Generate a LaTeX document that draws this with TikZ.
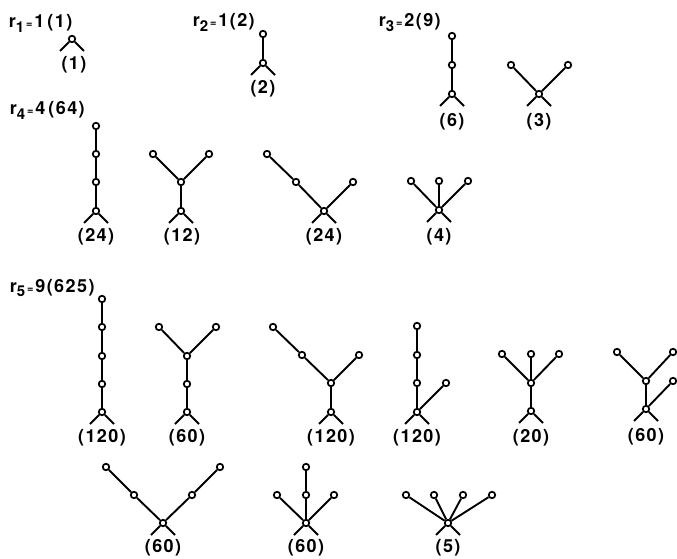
\documentclass[tikz,border=0pt]{standalone}
\usepackage{fontspec}
\setmainfont[LetterSpace=8]{TeX Gyre Heros}
\newcommand\rsub[1]{r\raisebox{-4.5pt}{\fontsize{15}{15}\selectfont#1}{\fontsize{11}{11}\selectfont\,=\,}}
\begin{document}
\begin{tikzpicture}[x=1pt,y=-1pt,line width=1.9pt,
    vx/.style={circle,draw,fill=white,line width=1.7pt,minimum size=6.5pt,inner sep=0pt},
    root/.style={vx,append after command={(\tikzlastnode) edge ++(-12,12) (\tikzlastnode) edge ++(12,12)}},
    cnt/.style={font=\bfseries\fontsize{18}{18}\selectfont,inner sep=0pt},
    hdr/.style={anchor=base west,font=\bfseries\fontsize{18}{18}\selectfont,inner sep=0pt}]
  \useasboundingbox (0,0) rectangle (677,559);

  \node[hdr] (h1) at (8,28) {\rsub{1}1\,(1)};
  \node[hdr] (h2) at (192,27) {\rsub{2}1(2)};
  \node[hdr] (h3) at (378,27) {\rsub{3}2(9)};
  \node[hdr] (h4) at (9,115) {\rsub{4}4\,(64)};
  \node[hdr] (h5) at (9,292) {\rsub{5}9(625)};

  \node[root] (A0) at (72,39) {};
  \node[cnt] at (74,65) {(1)};

  \node[root] (B0) at (263,63) {};
  \node[vx] (B1) at (263,34) {};
  \draw (B0) -- (B1);
  \node[cnt] at (263,89) {(2)};

  \node[root] (C0) at (452,94) {};
  \node[vx] (C1) at (452,65) {};
  \node[vx] (C2) at (452,36) {};
  \draw (C0) -- (C1) -- (C2);
  \node[cnt] at (452,122) {(6)};

  \node[root] (D0) at (539,94) {};
  \node[vx] (D1) at (511,65) {};
  \node[vx] (D2) at (568,65) {};
  \draw (D1) -- (D0) -- (D2);
  \node[cnt] at (539,122) {(3)};

  \node[root] (E0) at (96,211) {};
  \node[vx] (E1) at (96,182) {};
  \node[vx] (E2) at (96,154) {};
  \node[vx] (E3) at (96,126) {};
  \draw (E0) -- (E1) -- (E2) -- (E3);
  \node[cnt] at (96,237) {(24)};

  \node[root] (F0) at (181,211) {};
  \node[vx] (F1) at (181,182) {};
  \node[vx] (F2) at (153,154) {};
  \node[vx] (F3) at (209,154) {};
  \draw (F0) -- (F1) -- (F2) (F1) -- (F3);
  \node[cnt] at (182,237) {(12)};

  \node[root] (G0) at (324,211) {};
  \node[vx] (G1) at (296,182) {};
  \node[vx] (G2) at (267,154) {};
  \node[vx] (G3) at (353,182) {};
  \draw (G0) -- (G1) -- (G2) (G0) -- (G3);
  \node[cnt] at (324,237) {(24)};

  \node[root] (H0) at (439,210) {};
  \node[vx] (H1) at (411,181) {};
  \node[vx] (H2) at (439,181) {};
  \node[vx] (H3) at (468,181) {};
  \draw (H0) -- (H1) (H0) -- (H2) (H0) -- (H3);
  \node[cnt] at (439,237) {(4)};

  \node[root] (I0) at (102,412) {};
  \node[vx] (I1) at (102,384) {};
  \node[vx] (I2) at (102,356) {};
  \node[vx] (I3) at (102,327) {};
  \node[vx] (I4) at (102,299) {};
  \draw (I0) -- (I1) -- (I2) -- (I3) -- (I4);
  \node[cnt] at (102,438) {(120)};

  \node[root] (J0) at (187,412) {};
  \node[vx] (J1) at (187,384) {};
  \node[vx] (J2) at (187,356) {};
  \node[vx] (J3) at (159,327) {};
  \node[vx] (J4) at (216,327) {};
  \draw (J0) -- (J1) -- (J2) -- (J3) (J2) -- (J4);
  \node[cnt] at (187,438) {(60)};

  \node[root] (K0) at (331,412) {};
  \node[vx] (K1) at (331,383) {};
  \node[vx] (K2) at (302,355) {};
  \node[vx] (K3) at (273,327) {};
  \node[vx] (K4) at (359,355) {};
  \draw (K0) -- (K1) -- (K2) -- (K3) (K1) -- (K4);
  \node[cnt] at (331,438) {(120)};

  \node[root] (L0) at (417,412) {};
  \node[vx] (L1) at (417,383) {};
  \node[vx] (L2) at (417,355) {};
  \node[vx] (L3) at (417,326) {};
  \node[vx] (L4) at (446,383) {};
  \draw (L0) -- (L1) -- (L2) -- (L3) (L0) -- (L4);
  \node[cnt] at (417,438) {(120)};

  \node[root] (M0) at (531,411) {};
  \node[vx] (M1) at (531,383) {};
  \node[vx] (M2) at (502,354) {};
  \node[vx] (M3) at (531,354) {};
  \node[vx] (M4) at (559,354) {};
  \draw (M0) -- (M1) -- (M2) (M1) -- (M3) (M1) -- (M4);
  \node[cnt] at (531,438) {(20)};

  \node[root] (N0) at (646,409) {};
  \node[vx] (N1) at (646,381) {};
  \node[vx] (N2) at (617,352) {};
  \node[vx] (N3) at (673,352) {};
  \node[vx] (N4) at (673,381) {};
  \draw (N0) -- (N1) -- (N2) (N1) -- (N3) (N0) -- (N4);
  \node[cnt] at (646,437) {(60)};

  \node[root] (P0) at (163,523) {};
  \node[vx] (P1) at (134,495) {};
  \node[vx] (P2) at (106,467) {};
  \node[vx] (P3) at (192,495) {};
  \node[vx] (P4) at (220,467) {};
  \draw (P0) -- (P1) -- (P2) (P0) -- (P3) -- (P4);
  \node[cnt] at (163,548) {(60)};

  \node[root] (Q0) at (306,523) {};
  \node[vx] (Q1) at (306,495) {};
  \node[vx] (Q2) at (306,467) {};
  \node[vx] (Q3) at (277,495) {};
  \node[vx] (Q4) at (334,495) {};
  \draw (Q0) -- (Q1) -- (Q2) (Q0) -- (Q3) (Q0) -- (Q4);
  \node[cnt] at (306,548) {(60)};

  \node[root] (R0) at (448,523) {};
  \node[vx] (R1) at (406,495) {};
  \node[vx] (R2) at (434,495) {};
  \node[vx] (R3) at (463,495) {};
  \node[vx] (R4) at (492,495) {};
  \draw (R0) -- (R1) (R0) -- (R2) (R0) -- (R3) (R0) -- (R4);
  \node[cnt] at (448,548) {(5)};
\end{tikzpicture}
\end{document}
